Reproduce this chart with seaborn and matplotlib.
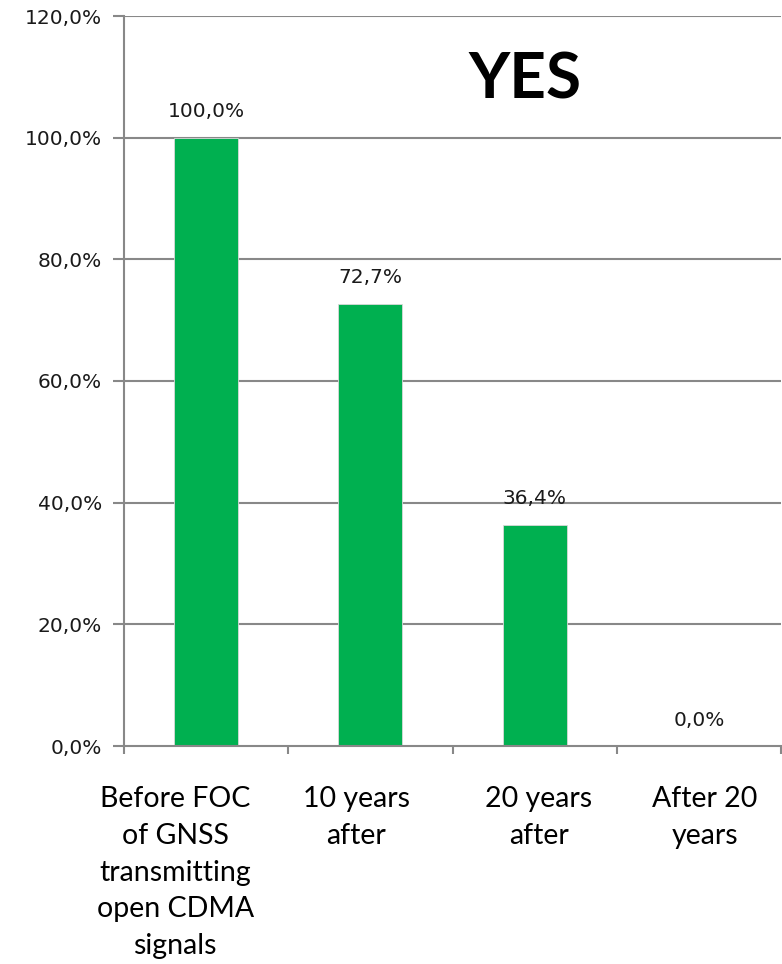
import matplotlib
matplotlib.use("Agg")
import matplotlib.pyplot as plt
import matplotlib.transforms as mtransforms
import seaborn as sns
import pandas as pd

categories = [
    "Before FOC\nof GNSS\ntransmitting\nopen CDMA\nsignals",
    "10 years\nafter",
    "20 years\nafter",
    "After 20\nyears",
]
values = [100.0, 72.7, 36.4, 0.0]
yticks = [0, 20, 40, 60, 80, 100, 120]
title_text = "YES"

sns.set_theme(style="white")
plt.rcParams["font.family"] = ["DejaVu Sans"]

df = pd.DataFrame({"cat": categories, "val": values})

fig = plt.figure(figsize=(7.82, 9.64), dpi=100)
ax = fig.add_axes([124 / 782, 1 - 746 / 964, 657 / 782, 730 / 964])

grid_c = "#888888"
label_c = "#1a1a1a"
for y in yticks[1:]:
    ax.axhline(y, color=grid_c, lw=1.5, zorder=0)

sns.barplot(data=df, x="cat", y="val", color="#00B050", width=0.39,
            saturation=1, edgecolor="#d9d9d9", linewidth=0.6, ax=ax, zorder=2)

ax.set_xlim(-0.5, 3.5)
ax.set_ylim(0, 120)
ax.set_xlabel("")
ax.set_ylabel("")

# y axis
ax.set_yticks(yticks)
ax.set_yticklabels([f"{v:.1f}%".replace(".", ",") for v in yticks],
                   fontsize=14.5, color=label_c)
ax.tick_params(axis="y", length=8, width=1.5, color=grid_c, pad=8, left=True)

# x axis: ticks at category boundaries, labels under the bars
ax.set_xticks([-0.5, 0.5, 1.5, 2.5, 3.5])
ax.set_xticklabels([])
ax.tick_params(axis="x", which="major", length=6, width=1.5, color=grid_c, bottom=True)
ax.set_xticks([0, 1, 2, 3], minor=True)
ax.set_xticklabels(categories, minor=True, fontsize=20.5, family="Lato",
                   linespacing=1.51, color="#000000", va="top")
ax.tick_params(axis="x", which="minor", length=0, pad=29)

# wrapped category labels sit slightly off the category centres
label_shift_px = [-31, -14, 4, 6]
for lbl, dx in zip(ax.get_xticklabels(minor=True), label_shift_px):
    lbl.set_transform(lbl.get_transform() +
                      mtransforms.ScaledTranslation(dx / 100, 0, fig.dpi_scale_trans))

for side in ["top", "right"]:
    ax.spines[side].set_visible(False)
for side in ["left", "bottom"]:
    ax.spines[side].set_color(grid_c)
    ax.spines[side].set_linewidth(1.5)

# value labels
for i, v in enumerate(values):
    ax.annotate(f"{v:.1f}%".replace(".", ","), xy=(i, v), xytext=(0, 26),
                textcoords="offset pixels", ha="center", va="center",
                fontsize=14.5, color=label_c)

ax.text(0.61, 0.912, title_text, transform=ax.transAxes, ha="center",
        va="center", fontsize=46, fontweight="bold", family="Lato", color="black")

fig.savefig("out.png", dpi=100)
